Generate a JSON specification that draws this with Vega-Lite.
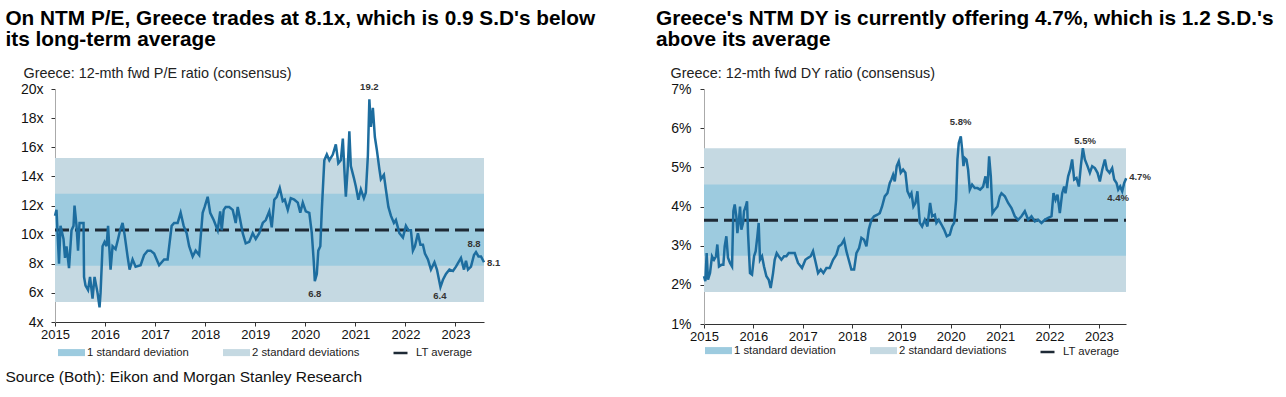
{
  "$schema": "https://vega.github.io/schema/vega-lite/v6.json",
  "background": "white",
  "padding": {"left": 5, "top": 8, "right": 5, "bottom": 5},
  "config": {
    "font": "Liberation Sans",
    "view": {"stroke": null},
    "axis": {"grid": false, "tickColor": "#333", "labelColor": "#111", "labelFont": "Liberation Sans", "titleFont": "Liberation Sans", "labelOverlap": false},
    "legend": {"labelFont": "Liberation Sans", "labelFontSize": 11.3, "labelColor": "#222"}
  },
  "title": {"text": "Source (Both): Eikon and Morgan Stanley Research", "orient": "bottom", "anchor": "start", "fontSize": 15.5, "fontWeight": "normal", "color": "#111", "offset": 11},
  "datasets": {
    "pe": [
      {"t": 2015.00, "v": 11.3}, {"t": 2015.03, "v": 11.7}, {"t": 2015.08, "v": 8.0}, {"t": 2015.11, "v": 10.6}, {"t": 2015.17, "v": 9.7},
      {"t": 2015.20, "v": 8.4}, {"t": 2015.23, "v": 9.2}, {"t": 2015.28, "v": 7.7}, {"t": 2015.33, "v": 10.3}, {"t": 2015.37, "v": 10.6},
      {"t": 2015.39, "v": 12.0}, {"t": 2015.43, "v": 10.6}, {"t": 2015.46, "v": 8.9}, {"t": 2015.49, "v": 10.8}, {"t": 2015.53, "v": 10.8},
      {"t": 2015.57, "v": 10.8}, {"t": 2015.58, "v": 7.1}, {"t": 2015.61, "v": 6.5}, {"t": 2015.66, "v": 6.2}, {"t": 2015.70, "v": 7.1},
      {"t": 2015.75, "v": 5.6}, {"t": 2015.79, "v": 7.1}, {"t": 2015.85, "v": 6.0}, {"t": 2015.89, "v": 5.0}, {"t": 2015.91, "v": 6.0},
      {"t": 2015.95, "v": 9.2}, {"t": 2015.99, "v": 9.5}, {"t": 2016.03, "v": 9.2}, {"t": 2016.06, "v": 10.6}, {"t": 2016.11, "v": 7.6},
      {"t": 2016.15, "v": 9.2}, {"t": 2016.21, "v": 9.0}, {"t": 2016.26, "v": 9.7}, {"t": 2016.30, "v": 10.3}, {"t": 2016.35, "v": 10.8},
      {"t": 2016.39, "v": 10.0}, {"t": 2016.45, "v": 8.5}, {"t": 2016.49, "v": 7.6}, {"t": 2016.55, "v": 8.3}, {"t": 2016.61, "v": 7.8},
      {"t": 2016.71, "v": 7.9}, {"t": 2016.78, "v": 8.6}, {"t": 2016.85, "v": 8.9}, {"t": 2016.91, "v": 8.9}, {"t": 2016.98, "v": 8.7},
      {"t": 2017.08, "v": 7.9}, {"t": 2017.18, "v": 8.3}, {"t": 2017.25, "v": 8.3}, {"t": 2017.33, "v": 10.6}, {"t": 2017.38, "v": 10.8},
      {"t": 2017.45, "v": 10.8}, {"t": 2017.51, "v": 11.5}, {"t": 2017.57, "v": 10.6}, {"t": 2017.63, "v": 10.1}, {"t": 2017.68, "v": 9.2},
      {"t": 2017.75, "v": 8.5}, {"t": 2017.81, "v": 8.9}, {"t": 2017.88, "v": 8.6}, {"t": 2017.95, "v": 11.5}, {"t": 2017.99, "v": 11.9},
      {"t": 2018.05, "v": 12.6}, {"t": 2018.10, "v": 11.5}, {"t": 2018.17, "v": 11.0}, {"t": 2018.25, "v": 10.3}, {"t": 2018.30, "v": 11.6},
      {"t": 2018.33, "v": 10.3}, {"t": 2018.37, "v": 11.7}, {"t": 2018.41, "v": 11.9}, {"t": 2018.48, "v": 11.9}, {"t": 2018.55, "v": 11.7},
      {"t": 2018.61, "v": 10.8}, {"t": 2018.65, "v": 11.9}, {"t": 2018.70, "v": 11.0}, {"t": 2018.75, "v": 10.1}, {"t": 2018.81, "v": 9.4},
      {"t": 2018.88, "v": 9.5}, {"t": 2018.95, "v": 10.1}, {"t": 2019.01, "v": 9.7}, {"t": 2019.08, "v": 10.1}, {"t": 2019.15, "v": 10.8},
      {"t": 2019.21, "v": 11.0}, {"t": 2019.28, "v": 11.6}, {"t": 2019.33, "v": 10.5}, {"t": 2019.38, "v": 12.4}, {"t": 2019.43, "v": 12.6},
      {"t": 2019.49, "v": 13.2}, {"t": 2019.55, "v": 12.3}, {"t": 2019.59, "v": 12.4}, {"t": 2019.65, "v": 11.7}, {"t": 2019.71, "v": 12.5},
      {"t": 2019.78, "v": 12.4}, {"t": 2019.85, "v": 12.2}, {"t": 2019.90, "v": 11.5}, {"t": 2019.95, "v": 12.2}, {"t": 2020.01, "v": 11.6},
      {"t": 2020.08, "v": 11.5}, {"t": 2020.13, "v": 10.1}, {"t": 2020.17, "v": 8.1}, {"t": 2020.19, "v": 6.8}, {"t": 2020.23, "v": 7.3},
      {"t": 2020.26, "v": 8.9}, {"t": 2020.30, "v": 9.2}, {"t": 2020.33, "v": 11.7}, {"t": 2020.38, "v": 15.1}, {"t": 2020.43, "v": 15.5},
      {"t": 2020.48, "v": 15.1}, {"t": 2020.55, "v": 15.5}, {"t": 2020.61, "v": 16.2}, {"t": 2020.66, "v": 14.9}, {"t": 2020.71, "v": 15.1},
      {"t": 2020.75, "v": 16.6}, {"t": 2020.78, "v": 14.5}, {"t": 2020.81, "v": 12.6}, {"t": 2020.85, "v": 14.7}, {"t": 2020.88, "v": 17.1},
      {"t": 2020.91, "v": 14.7}, {"t": 2020.97, "v": 13.9}, {"t": 2021.01, "v": 13.3}, {"t": 2021.06, "v": 12.4}, {"t": 2021.11, "v": 13.1},
      {"t": 2021.17, "v": 12.5}, {"t": 2021.21, "v": 12.9}, {"t": 2021.25, "v": 15.4}, {"t": 2021.28, "v": 19.3}, {"t": 2021.31, "v": 17.4},
      {"t": 2021.35, "v": 18.7}, {"t": 2021.39, "v": 16.7}, {"t": 2021.43, "v": 15.8}, {"t": 2021.48, "v": 14.5}, {"t": 2021.51, "v": 13.8},
      {"t": 2021.57, "v": 14.1}, {"t": 2021.61, "v": 13.1}, {"t": 2021.66, "v": 11.9}, {"t": 2021.71, "v": 11.3}, {"t": 2021.77, "v": 10.8},
      {"t": 2021.81, "v": 11.0}, {"t": 2021.88, "v": 10.1}, {"t": 2021.95, "v": 9.8}, {"t": 2022.01, "v": 10.6}, {"t": 2022.06, "v": 10.3},
      {"t": 2022.11, "v": 10.3}, {"t": 2022.15, "v": 8.9}, {"t": 2022.19, "v": 9.2}, {"t": 2022.25, "v": 10.1}, {"t": 2022.30, "v": 9.3},
      {"t": 2022.35, "v": 9.3}, {"t": 2022.39, "v": 8.7}, {"t": 2022.45, "v": 8.3}, {"t": 2022.51, "v": 7.6}, {"t": 2022.58, "v": 8.1},
      {"t": 2022.63, "v": 7.6}, {"t": 2022.70, "v": 6.4}, {"t": 2022.75, "v": 6.9}, {"t": 2022.81, "v": 7.3}, {"t": 2022.88, "v": 7.6},
      {"t": 2022.95, "v": 7.5}, {"t": 2023.01, "v": 7.8}, {"t": 2023.11, "v": 8.4}, {"t": 2023.17, "v": 7.6}, {"t": 2023.21, "v": 8.2},
      {"t": 2023.25, "v": 7.6}, {"t": 2023.31, "v": 7.8}, {"t": 2023.37, "v": 8.6}, {"t": 2023.41, "v": 8.8}, {"t": 2023.46, "v": 8.5},
      {"t": 2023.51, "v": 8.5}, {"t": 2023.57, "v": 8.1}
    ],
    "dy": [
      {"t": 2015.000, "v": 2.22}, {"t": 2015.027, "v": 2.09}, {"t": 2015.054, "v": 2.81}, {"t": 2015.081, "v": 2.13}, {"t": 2015.122, "v": 2.30},
      {"t": 2015.162, "v": 2.73}, {"t": 2015.203, "v": 2.64}, {"t": 2015.243, "v": 2.73}, {"t": 2015.270, "v": 3.03}, {"t": 2015.304, "v": 2.47},
      {"t": 2015.351, "v": 2.51}, {"t": 2015.392, "v": 2.51}, {"t": 2015.419, "v": 2.98}, {"t": 2015.453, "v": 3.24}, {"t": 2015.486, "v": 2.69},
      {"t": 2015.527, "v": 2.56}, {"t": 2015.568, "v": 2.47}, {"t": 2015.595, "v": 3.88}, {"t": 2015.622, "v": 4.05}, {"t": 2015.655, "v": 3.75},
      {"t": 2015.676, "v": 3.32}, {"t": 2015.709, "v": 3.66}, {"t": 2015.730, "v": 4.00}, {"t": 2015.757, "v": 3.41}, {"t": 2015.791, "v": 3.58},
      {"t": 2015.811, "v": 3.88}, {"t": 2015.845, "v": 4.00}, {"t": 2015.872, "v": 4.13}, {"t": 2015.892, "v": 3.32}, {"t": 2015.932, "v": 2.30},
      {"t": 2015.973, "v": 2.26}, {"t": 2016.014, "v": 2.73}, {"t": 2016.047, "v": 2.86}, {"t": 2016.081, "v": 3.24}, {"t": 2016.108, "v": 3.58},
      {"t": 2016.135, "v": 2.64}, {"t": 2016.176, "v": 2.73}, {"t": 2016.216, "v": 2.47}, {"t": 2016.264, "v": 2.22}, {"t": 2016.311, "v": 2.13},
      {"t": 2016.351, "v": 1.92}, {"t": 2016.399, "v": 2.30}, {"t": 2016.432, "v": 2.64}, {"t": 2016.473, "v": 2.81}, {"t": 2016.514, "v": 2.73},
      {"t": 2016.568, "v": 2.64}, {"t": 2016.622, "v": 2.73}, {"t": 2016.669, "v": 2.73}, {"t": 2016.716, "v": 2.81}, {"t": 2016.770, "v": 2.81},
      {"t": 2016.838, "v": 2.81}, {"t": 2016.905, "v": 2.56}, {"t": 2016.986, "v": 2.43}, {"t": 2017.054, "v": 2.64}, {"t": 2017.108, "v": 2.69},
      {"t": 2017.162, "v": 2.73}, {"t": 2017.209, "v": 2.86}, {"t": 2017.257, "v": 2.60}, {"t": 2017.311, "v": 2.30}, {"t": 2017.365, "v": 2.39},
      {"t": 2017.419, "v": 2.30}, {"t": 2017.480, "v": 2.43}, {"t": 2017.547, "v": 2.43}, {"t": 2017.615, "v": 2.64}, {"t": 2017.682, "v": 2.77},
      {"t": 2017.730, "v": 2.98}, {"t": 2017.784, "v": 3.03}, {"t": 2017.838, "v": 3.15}, {"t": 2017.885, "v": 2.86}, {"t": 2017.932, "v": 2.64},
      {"t": 2017.986, "v": 2.39}, {"t": 2018.041, "v": 2.39}, {"t": 2018.088, "v": 2.81}, {"t": 2018.142, "v": 2.94}, {"t": 2018.189, "v": 3.20},
      {"t": 2018.243, "v": 3.15}, {"t": 2018.291, "v": 2.98}, {"t": 2018.338, "v": 3.41}, {"t": 2018.392, "v": 3.66}, {"t": 2018.446, "v": 3.75},
      {"t": 2018.514, "v": 3.79}, {"t": 2018.561, "v": 3.83}, {"t": 2018.608, "v": 4.00}, {"t": 2018.662, "v": 4.26}, {"t": 2018.716, "v": 4.34},
      {"t": 2018.764, "v": 4.60}, {"t": 2018.797, "v": 4.69}, {"t": 2018.831, "v": 4.81}, {"t": 2018.865, "v": 4.64}, {"t": 2018.905, "v": 5.03},
      {"t": 2018.946, "v": 5.15}, {"t": 2018.986, "v": 4.86}, {"t": 2019.034, "v": 4.94}, {"t": 2019.081, "v": 4.86}, {"t": 2019.122, "v": 4.39},
      {"t": 2019.169, "v": 4.26}, {"t": 2019.203, "v": 4.34}, {"t": 2019.243, "v": 4.00}, {"t": 2019.284, "v": 4.09}, {"t": 2019.324, "v": 4.39},
      {"t": 2019.372, "v": 3.58}, {"t": 2019.419, "v": 3.49}, {"t": 2019.473, "v": 3.66}, {"t": 2019.527, "v": 3.49}, {"t": 2019.581, "v": 4.09},
      {"t": 2019.622, "v": 3.75}, {"t": 2019.676, "v": 3.79}, {"t": 2019.709, "v": 3.58}, {"t": 2019.757, "v": 3.66}, {"t": 2019.811, "v": 3.54},
      {"t": 2019.865, "v": 3.41}, {"t": 2019.919, "v": 3.24}, {"t": 2019.980, "v": 3.28}, {"t": 2020.027, "v": 3.49}, {"t": 2020.068, "v": 3.58},
      {"t": 2020.108, "v": 4.17}, {"t": 2020.135, "v": 5.20}, {"t": 2020.162, "v": 5.62}, {"t": 2020.203, "v": 5.79}, {"t": 2020.230, "v": 5.45},
      {"t": 2020.257, "v": 5.03}, {"t": 2020.284, "v": 5.24}, {"t": 2020.318, "v": 5.20}, {"t": 2020.351, "v": 4.94}, {"t": 2020.385, "v": 4.43},
      {"t": 2020.432, "v": 4.56}, {"t": 2020.486, "v": 4.47}, {"t": 2020.541, "v": 4.47}, {"t": 2020.595, "v": 4.43}, {"t": 2020.655, "v": 4.51},
      {"t": 2020.703, "v": 4.77}, {"t": 2020.743, "v": 4.47}, {"t": 2020.777, "v": 5.28}, {"t": 2020.811, "v": 4.77}, {"t": 2020.845, "v": 3.83},
      {"t": 2020.892, "v": 3.92}, {"t": 2020.946, "v": 4.00}, {"t": 2020.993, "v": 4.26}, {"t": 2021.027, "v": 4.34}, {"t": 2021.095, "v": 4.26},
      {"t": 2021.162, "v": 4.09}, {"t": 2021.230, "v": 3.96}, {"t": 2021.297, "v": 3.75}, {"t": 2021.365, "v": 3.66}, {"t": 2021.432, "v": 3.75},
      {"t": 2021.500, "v": 3.88}, {"t": 2021.568, "v": 3.66}, {"t": 2021.635, "v": 3.75}, {"t": 2021.703, "v": 3.62}, {"t": 2021.770, "v": 3.66},
      {"t": 2021.838, "v": 3.58}, {"t": 2021.905, "v": 3.66}, {"t": 2021.973, "v": 3.71}, {"t": 2022.041, "v": 3.75}, {"t": 2022.081, "v": 4.34},
      {"t": 2022.122, "v": 4.17}, {"t": 2022.162, "v": 4.30}, {"t": 2022.209, "v": 3.83}, {"t": 2022.257, "v": 4.34}, {"t": 2022.297, "v": 4.51},
      {"t": 2022.324, "v": 4.34}, {"t": 2022.378, "v": 4.77}, {"t": 2022.419, "v": 4.94}, {"t": 2022.459, "v": 5.20}, {"t": 2022.500, "v": 4.69},
      {"t": 2022.547, "v": 4.73}, {"t": 2022.595, "v": 4.51}, {"t": 2022.635, "v": 5.03}, {"t": 2022.676, "v": 5.49}, {"t": 2022.716, "v": 5.20},
      {"t": 2022.770, "v": 5.03}, {"t": 2022.818, "v": 4.86}, {"t": 2022.865, "v": 5.03}, {"t": 2022.919, "v": 4.98}, {"t": 2022.973, "v": 4.86},
      {"t": 2023.020, "v": 4.64}, {"t": 2023.068, "v": 4.94}, {"t": 2023.122, "v": 5.20}, {"t": 2023.162, "v": 4.94}, {"t": 2023.216, "v": 4.86},
      {"t": 2023.270, "v": 4.98}, {"t": 2023.311, "v": 4.69}, {"t": 2023.358, "v": 4.60}, {"t": 2023.392, "v": 4.43}, {"t": 2023.432, "v": 4.51},
      {"t": 2023.473, "v": 4.39}, {"t": 2023.514, "v": 4.60}, {"t": 2023.554, "v": 4.72}
    ]
  },
  "spacing": 60,
  "resolve": {
    "scale": {"x": "independent", "y": "independent", "fill": "independent", "strokeDash": "independent"},
    "legend": {"fill": "independent", "strokeDash": "independent"}
  },
  "hconcat": [
    {
      "width": 429,
      "height": 233,
      "title": {"text": ["On NTM P/E, Greece trades at 8.1x, which is 0.9 S.D's below", "its long-term average"], "anchor": "start", "frame": "bounds", "fontSize": 20.8, "fontWeight": "bold", "color": "#000", "lineHeight": 21, "offset": 14, "dx": -15},
      "encoding": {
        "x": {"field": "t", "type": "quantitative", "scale": {"domain": [2015, 2023.57], "nice": false, "zero": false},
          "axis": {"title": null, "values": [2015, 2016, 2017, 2018, 2019, 2020, 2021, 2022, 2023], "format": "d", "tickSize": 4, "domainColor": "#333", "labelFontSize": 13, "labelPadding": 2, "labelFlush": false}},
        "y": {"field": "v", "type": "quantitative", "scale": {"domain": [4, 20], "nice": false, "zero": false},
          "axis": {"title": "Greece: 12-mth fwd P/E ratio (consensus)", "values": [4, 6, 8, 10, 12, 14, 16, 18, 20], "labelExpr": "datum.value + 'x'", "tickSize": 4, "domainColor": "#aaa", "labelFontSize": 14, "labelPadding": 8,
            "titleAngle": 0, "titleAlign": "left", "titleBaseline": "alphabetic", "titleX": -32, "titleY": -12, "titleFontSize": 14.4, "titleFontWeight": "normal", "titleColor": "#222"}}
      },
      "layer": [
        {
          "data": {"values": [
            {"band": "2 standard deviations", "v": 5.38, "v2": 15.26, "t": 2015, "t2": 2023.57},
            {"band": "1 standard deviation", "v": 7.87, "v2": 12.8, "t": 2015, "t2": 2023.57}
          ]},
          "mark": {"type": "rect"},
          "encoding": {
            "x2": {"field": "t2"},
            "y2": {"field": "v2"},
            "fill": {"field": "band", "type": "nominal", "scale": {"domain": ["1 standard deviation", "2 standard deviations"], "range": ["#9dcbdf", "#c5d9e2"]},
              "legend": {"orient": "none", "legendX": 3, "legendY": 250, "direction": "horizontal", "title": null, "symbolType": "M-1,-0.26H1V0.26H-1Z", "symbolSize": 729, "symbolStrokeWidth": 0, "labelOffset": 2, "columnPadding": 34}}
          }
        },
        {
          "data": {"values": [{"v": 10.32, "t": 2015, "t2": 2023.57, "s": "LT average"}]},
          "mark": {"type": "rule", "color": "#1e2a36", "strokeWidth": 3},
          "encoding": {
            "x2": {"field": "t2"},
            "strokeDash": {"field": "s", "type": "nominal", "scale": {"range": [[14, 6]]},
              "legend": {"orient": "none", "legendX": 337, "legendY": 255, "title": null, "symbolType": "stroke", "symbolSize": 225, "symbolStrokeColor": "#1e2a36", "symbolStrokeWidth": 2.5, "labelOffset": 6}}
          }
        },
        {
          "data": {"name": "pe"},
          "mark": {"type": "line", "color": "#1d6d9f", "strokeWidth": 2.5}
        },
        {
          "data": {"values": [{"t": 2021.28, "v": 19.3, "label": "19.2"}]},
          "mark": {"type": "text", "baseline": "bottom", "dy": -7, "fontSize": 9.5, "fontWeight": "bold", "color": "#333"},
          "encoding": {"text": {"field": "label"}}
        },
        {
          "data": {"values": [{"t": 2023.37, "v": 8.8, "label": "8.8"}]},
          "mark": {"type": "text", "baseline": "bottom", "dy": -3, "fontSize": 9.5, "fontWeight": "bold", "color": "#333"},
          "encoding": {"text": {"field": "label"}}
        },
        {
          "data": {"values": [{"t": 2020.19, "v": 6.8, "label": "6.8"}]},
          "mark": {"type": "text", "baseline": "top", "dy": 8, "fontSize": 9.5, "fontWeight": "bold", "color": "#333"},
          "encoding": {"text": {"field": "label"}}
        },
        {
          "data": {"values": [{"t": 2022.69, "v": 6.4, "label": "6.4"}]},
          "mark": {"type": "text", "baseline": "top", "dy": 4, "fontSize": 9.5, "fontWeight": "bold", "color": "#333"},
          "encoding": {"text": {"field": "label"}}
        },
        {
          "data": {"values": [{"t": 2023.57, "v": 8.1, "label": "8.1"}]},
          "mark": {"type": "text", "align": "left", "baseline": "middle", "dx": 3, "dy": 1, "fontSize": 9.5, "fontWeight": "bold", "color": "#333"},
          "encoding": {"text": {"field": "label"}}
        }
      ]
    },
    {
      "width": 422,
      "height": 235,
      "title": {"text": ["Greece's NTM DY is currently offering 4.7%, which is 1.2 S.D.'s", "above its average"], "anchor": "start", "frame": "bounds", "fontSize": 20.8, "fontWeight": "bold", "color": "#000", "lineHeight": 21, "offset": 14, "dx": -14},
      "encoding": {
        "x": {"field": "t", "type": "quantitative", "scale": {"domain": [2015, 2023.55], "nice": false, "zero": false},
          "axis": {"title": null, "values": [2015, 2016, 2017, 2018, 2019, 2020, 2021, 2022, 2023], "format": "d", "tickSize": 4, "domainColor": "#333", "labelFontSize": 13, "labelPadding": 2, "labelFlush": false}},
        "y": {"field": "v", "type": "quantitative", "scale": {"domain": [1, 7], "nice": false, "zero": false},
          "axis": {"title": "Greece: 12-mth fwd DY ratio (consensus)", "values": [1, 2, 3, 4, 5, 6, 7], "labelExpr": "datum.value + '%'", "tickSize": 4, "domainColor": "#aaa", "labelFontSize": 14, "labelPadding": 9,
            "titleAngle": 0, "titleAlign": "left", "titleBaseline": "alphabetic", "titleX": -34, "titleY": -12, "titleFontSize": 14.4, "titleFontWeight": "normal", "titleColor": "#222"}}
      },
      "layer": [
        {
          "data": {"values": [
            {"band": "2 standard deviations", "v": 1.82, "v2": 5.49, "t": 2015, "t2": 2023.55},
            {"band": "1 standard deviation", "v": 2.74, "v2": 4.56, "t": 2015, "t2": 2023.55}
          ]},
          "mark": {"type": "rect"},
          "encoding": {
            "x2": {"field": "t2"},
            "y2": {"field": "v2"},
            "fill": {"field": "band", "type": "nominal", "scale": {"domain": ["1 standard deviation", "2 standard deviations"], "range": ["#9dcbdf", "#c5d9e2"]},
              "legend": {"orient": "none", "legendX": 1, "legendY": 248, "direction": "horizontal", "title": null, "symbolType": "M-1,-0.26H1V0.26H-1Z", "symbolSize": 729, "symbolStrokeWidth": 0, "labelOffset": 2, "columnPadding": 34}}
          }
        },
        {
          "data": {"values": [{"v": 3.65, "t": 2015, "t2": 2023.55, "s": "LT average"}]},
          "mark": {"type": "rule", "color": "#1e2a36", "strokeWidth": 3},
          "encoding": {
            "x2": {"field": "t2"},
            "strokeDash": {"field": "s", "type": "nominal", "scale": {"range": [[14, 6]]},
              "legend": {"orient": "none", "legendX": 335, "legendY": 254, "title": null, "symbolType": "stroke", "symbolSize": 225, "symbolStrokeColor": "#1e2a36", "symbolStrokeWidth": 2.5, "labelOffset": 6}}
          }
        },
        {
          "data": {"name": "dy"},
          "mark": {"type": "line", "color": "#1d6d9f", "strokeWidth": 2.5}
        },
        {
          "data": {"values": [{"t": 2020.2, "v": 5.79, "label": "5.8%"}]},
          "mark": {"type": "text", "baseline": "bottom", "dy": -9, "fontSize": 9.5, "fontWeight": "bold", "color": "#333"},
          "encoding": {"text": {"field": "label"}}
        },
        {
          "data": {"values": [{"t": 2022.72, "v": 5.49, "label": "5.5%"}]},
          "mark": {"type": "text", "baseline": "bottom", "dy": -2, "fontSize": 9.5, "fontWeight": "bold", "color": "#333"},
          "encoding": {"text": {"field": "label"}}
        },
        {
          "data": {"values": [{"t": 2023.39, "v": 4.39, "label": "4.4%"}]},
          "mark": {"type": "text", "baseline": "top", "dy": 2, "fontSize": 9.5, "fontWeight": "bold", "color": "#333"},
          "encoding": {"text": {"field": "label"}}
        },
        {
          "data": {"values": [{"t": 2023.554, "v": 4.72, "label": "4.7%"}]},
          "mark": {"type": "text", "align": "left", "baseline": "middle", "dx": 3, "dy": -1, "fontSize": 9.5, "fontWeight": "bold", "color": "#333"},
          "encoding": {"text": {"field": "label"}}
        }
      ]
    }
  ]
}
